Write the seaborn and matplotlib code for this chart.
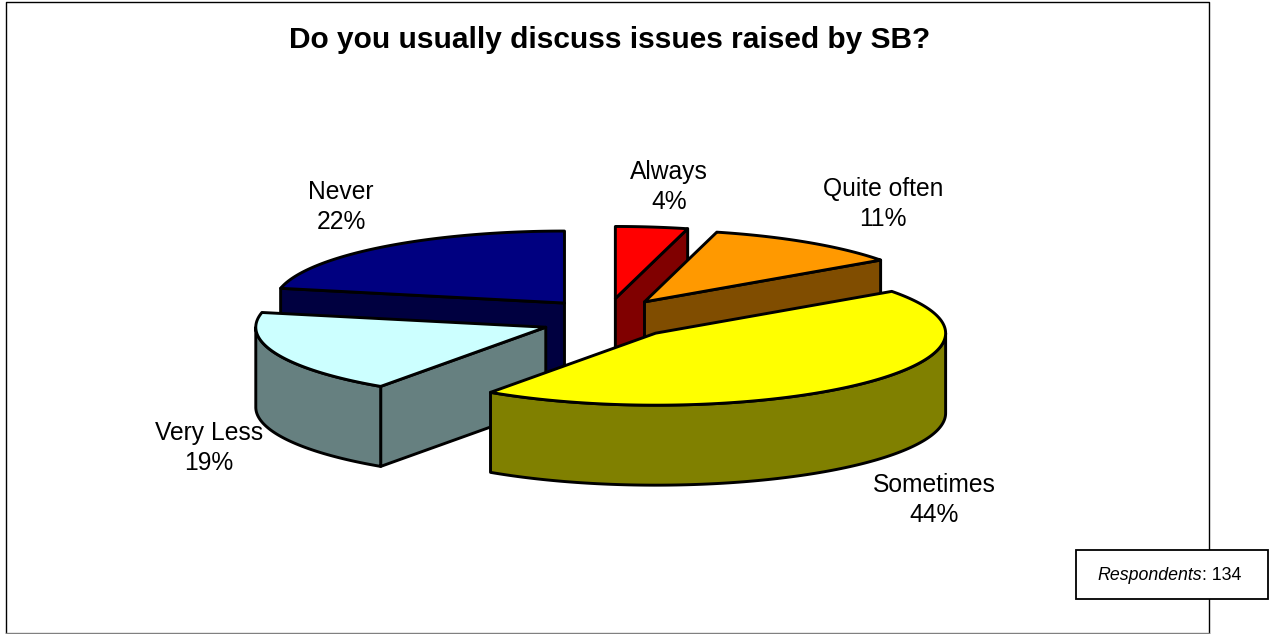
import numpy as np
import matplotlib
matplotlib.use("Agg")
import matplotlib.pyplot as plt
from matplotlib.patches import Rectangle
import seaborn as sns

# Survey shares, clockwise from twelve o'clock
categories = ["Always", "Quite often", "Sometimes", "Very Less", "Never"]
shares = [4, 11, 44, 19, 22]
top_colors = ["#FF0000", "#FF9900", "#FFFF00", "#CCFFFF", "#000080"]
wall_colors = ["#800000", "#804D00", "#808000", "#668080", "#000040"]
label_positions = [(669, 187), (883, 204), (934, 500), (209, 448), (341, 207)]
paint_order = ["Never", "Always", "Quite often", "Very Less", "Sometimes"]

sns.set_theme(style="white")
plt.rcParams["font.family"] = ["Liberation Sans", "DejaVu Sans"]

# Projection of the tilted pie, in pixel units of the axes
CX, CY = 607, 319
RX, RY = 290, 72
DEPTH = 80
EXPLODE_X, EXPLODE_Y = 66.7, 20.7
# Angles near the viewer open up slightly under the perspective view
PERSPECTIVE = np.radians(2.5)


def warp(theta):
    return theta + PERSPECTIVE * (1 - np.cos(theta)) / 2


def point(theta, apex):
    return apex[0] + RX * np.sin(theta), apex[1] - RY * np.cos(theta)


def draw_slice(ax, start, end, top, wall):
    mid = (start + end) / 2
    apex = (CX + EXPLODE_X * np.sin(mid), CY - EXPLODE_Y * np.cos(mid))
    start, end = warp(start), warp(end)
    style = dict(edgecolor="black", linewidth=2.1, joinstyle="round")

    # Radial cut faces that turn towards the viewer
    for edge, normal in ((start, start - np.pi / 2), (end, end + np.pi / 2)):
        if np.cos(normal) < 0:
            ex, ey = point(edge, apex)
            ax.fill([apex[0], ex, ex, apex[0]],
                    [apex[1], ey, ey + DEPTH, apex[1] + DEPTH],
                    facecolor=wall, **style)

    # Curved rim on the near half of the ellipse
    lo, hi = max(start, np.pi / 2), min(end, 3 * np.pi / 2)
    if lo < hi:
        t = np.linspace(lo, hi, 120)
        x, y = point(t, apex)
        ax.fill(np.r_[x, x[::-1]], np.r_[y, y[::-1] + DEPTH],
                facecolor=wall, **style)

    # Top surface
    t = np.linspace(start, end, 200)
    x, y = point(t, apex)
    ax.fill(np.r_[apex[0], x], np.r_[apex[1], y], facecolor=top, **style)


fig = plt.figure(figsize=(12.74, 6.34), dpi=100, facecolor="white")
ax = fig.add_axes([0, 0, 1, 1])
ax.set_xlim(0, 1274)
ax.set_ylim(634, 0)
ax.axis("off")

# Chart area outline
ax.plot([6, 6, 1209, 1209], [634, 1.5, 1.5, 634], color="black", lw=1.0, zorder=0)
ax.plot([6, 1209], [633, 633], color="#808080", lw=1.0, zorder=0)

edges = np.cumsum([0] + shares) / sum(shares) * 2 * np.pi
for name in paint_order:
    i = categories.index(name)
    draw_slice(ax, edges[i], edges[i + 1], top_colors[i], wall_colors[i])

for name, value, (lx, ly) in zip(categories, shares, label_positions):
    ax.text(lx, ly, f"{name}\n{value}%", ha="center", va="center",
            fontsize=17.7, color="black", linespacing=1.33)

ax.text(609.5, 40, "Do you usually discuss issues raised by SB?", ha="center",
        va="center", fontsize=21.5, fontweight="bold", color="black")

# Respondent count note overlapping the right edge of the frame
ax.add_patch(Rectangle((1076, 550), 192, 49, facecolor="white",
                       edgecolor="black", linewidth=1.3, zorder=5))
note = ax.text(1097, 575, "Respondents", style="italic", ha="left", va="center",
               fontsize=12.8, color="black", zorder=6)
fig.canvas.draw()
box = note.get_window_extent().transformed(ax.transData.inverted())
ax.text(box.x1, 575, ": 134", ha="left", va="center", fontsize=12.8,
        color="black", zorder=6)

fig.savefig("out.png", dpi=100)
